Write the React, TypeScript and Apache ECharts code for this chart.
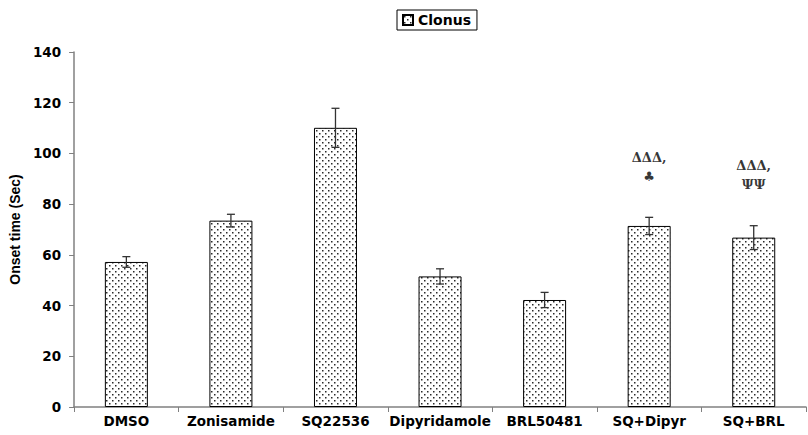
import React, { useEffect, useRef } from "react";
import * as echarts from "echarts";

const categories = ["DMSO", "Zonisamide", "SQ22536", "Dipyridamole", "BRL50481", "SQ+Dipyr", "SQ+BRL"];
const onsetMeans = [57.2, 73.5, 110.1, 51.5, 42.2, 71.4, 66.8];
const onsetErrors = [2.1, 2.5, 7.7, 3.0, 3.0, 3.4, 4.7];
const yTicks = [0, 20, 40, 60, 80, 100, 120, 140];
const annotations = [
  { category: "SQ+Dipyr", value: 94.5, text: "ΔΔΔ,\n♣" },
  { category: "SQ+BRL", value: 91.5, text: "ΔΔΔ,\nΨΨ" },
];

function makePattern(): HTMLCanvasElement {
  const c = document.createElement("canvas");
  c.width = 6;
  c.height = 6;
  const ctx = c.getContext("2d")!;
  ctx.fillStyle = "#ffffff";
  ctx.fillRect(0, 0, 6, 6);
  ctx.fillStyle = "#2a2a2a";
  ctx.fillRect(1, 1, 1.5, 1.5);
  ctx.fillRect(4, 4, 1.5, 1.5);
  return c;
}

export default function App() {
  const ref = useRef<HTMLDivElement>(null);
  useEffect(() => {
    if (!ref.current) return;
    const chart = echarts.init(ref.current, undefined, { renderer: "svg" });
    const pattern = { image: makePattern().toDataURL(), repeat: "repeat" as const };
    const font = "'DejaVu Sans', sans-serif";
    const font2 = "'Liberation Sans', Arial, sans-serif";
    chart.setOption({
      animation: false,
      backgroundColor: "#ffffff",
      grid: { left: 73, right: 2, top: 52, bottom: 28, containLabel: false },
      legend: {
        top: 10,
        left: 397,
        data: ["Clonus"],
        borderColor: "#000",
        borderWidth: 1,
        borderRadius: 0,
        padding: [3, 6, 3, 5],
        itemWidth: 10,
        itemHeight: 10,
        itemGap: 4,
        icon: "rect",
        textStyle: { fontFamily: font, fontWeight: "bold", fontSize: 14, color: "#000", padding: [0, 0, 0, 0] },
      },
      xAxis: {
        type: "category",
        data: categories,
        axisLine: { lineStyle: { color: "#808080", width: 1.5 } },
        axisTick: { show: true, alignWithLabel: false, length: 5, lineStyle: { color: "#808080" } },
        axisLabel: { fontFamily: font, fontWeight: "bold", fontSize: 13.5, color: "#000", margin: 7, interval: 0 },
      },
      yAxis: {
        type: "value",
        min: 0,
        max: 140,
        interval: 20,
        name: "Onset time (Sec)",
        nameLocation: "middle",
        nameGap: 50,
        nameTextStyle: { fontFamily: font2, fontWeight: "bold", fontSize: 14, color: "#000" },
        axisLine: { show: true, lineStyle: { color: "#808080", width: 1.5 } },
        axisTick: { show: true, length: 5, lineStyle: { color: "#808080" } },
        splitLine: { show: false },
        axisLabel: {
          fontFamily: font,
          fontWeight: "bold",
          fontSize: 13.5,
          color: "#000",
          margin: 13,
          formatter: (v: number) => (yTicks.includes(v) ? String(v) : ""),
        },
      },
      series: [
        {
          name: "Clonus",
          type: "bar",
          data: onsetMeans,
          barWidth: 43,
          itemStyle: { color: pattern, borderColor: "#000", borderWidth: 1 },
          z: 2,
        },
        {
          name: "err",
          type: "custom",
          z: 5,
          data: onsetMeans.map((m, i) => [i, m - onsetErrors[i], m + onsetErrors[i]]),
          renderItem: (params: any, api: any) => {
            const x = api.value(0);
            const lo = api.coord([x, api.value(1)]);
            const hi = api.coord([x, api.value(2)]);
            const cap = 4;
            const style = { stroke: "#333", lineWidth: 1.3 };
            return {
              type: "group",
              children: [
                { type: "line", shape: { x1: lo[0], y1: lo[1], x2: hi[0], y2: hi[1] }, style },
                { type: "line", shape: { x1: hi[0] - cap, y1: hi[1], x2: hi[0] + cap, y2: hi[1] }, style },
                { type: "line", shape: { x1: lo[0] - cap, y1: lo[1], x2: lo[0] + cap, y2: lo[1] }, style },
              ],
            };
          },
        },
        {
          name: "annot",
          type: "scatter",
          symbolSize: 0,
          z: 6,
          data: annotations.map((a) => ({ value: [a.category, a.value], text: a.text })),
          label: {
            show: true,
            position: "inside",
            formatter: (p: any) => p.data.text,
            fontFamily: "'DejaVu Serif', serif",
            fontWeight: "bold",
            fontSize: 13,
            lineHeight: 19,
            color: "#000",
          },
        },
      ],
    });
    return () => chart.dispose();
  }, []);
  return <div ref={ref} style={{ width: 808, height: 435, position: "absolute", left: 0, top: 0 }} />;
}
